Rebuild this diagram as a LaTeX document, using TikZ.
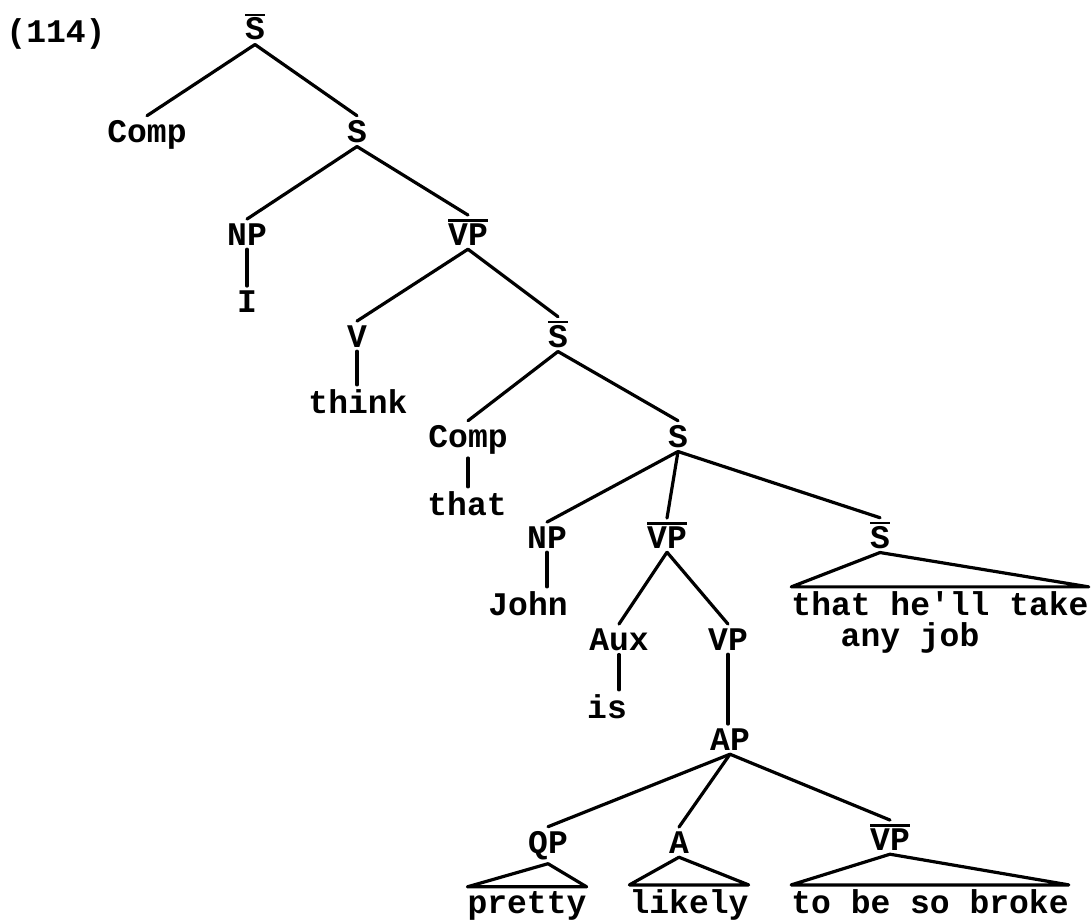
\documentclass[tikz,border=0pt]{standalone}
\usepackage{fontspec}
\setmainfont{Liberation Mono}
\usetikzlibrary{calc}

\newcommand{\barred}[1]{\vbox{\hrule height 2.5pt\kern 1.5pt\hbox{#1}}}

\tikzset{
    lab/.style={anchor=base, inner xsep=1pt, inner ysep=4pt, font=\bfseries\fontsize{33}{40}\selectfont},
    leaf/.style={lab, inner xsep=0pt},
    branch/.style={line width=3.2pt, line cap=round, line join=round}
}

\begin{document}
\begin{tikzpicture}[x=1pt,y=-1pt]

        \useasboundingbox (0,0) rectangle (1091,923);

        \node[lab] (num) at (56,43) {(114)};
        \node[lab] (sbar0) at (255,40) {\barred{S}};

        \node[lab] (comp1) at (147,142) {Comp};
        \node[lab] (s1) at (357,142) {S};

        \node[lab] (np1) at (247,245) {NP};
        \node[lab] (vpbar1) at (468,245) {\barred{VP}};
        \node[lab] (i) at (247,312) {I};

        \node[lab] (v) at (357,347) {V};
        \node[lab] (sbar2) at (558,347) {\barred{S}};
        \node[lab] (think) at (358,413) {think};

        \node[lab] (comp2) at (468,447) {Comp};
        \node[lab] (s3) at (678,447) {S};
        \node[lab] (that) at (467,515) {that};

        \node[lab] (np2) at (547,548) {NP};
        \node[lab] (vpbar2) at (667,548) {\barred{VP}};
        \node[lab] (sbar4) at (880,548) {\barred{S}};
        \node[lab] (john) at (528,615) {John};
        \node[leaf] (sthat) at (940,615) {that he\textquotesingle ll take};
        \node[lab, inner sep=0pt] (sany) at (910,646) {any job};

        \node[lab] (aux) at (619,650) {Aux};
        \node[lab] (vp3) at (728,650) {VP};
        \node[lab] (is) at (607,718) {is};
        \node[lab] (ap) at (730,750) {AP};

        \node[lab] (qp) at (548,853) {QP};
        \node[lab] (a) at (679,853) {A};
        \node[lab] (vpbar3) at (890,850) {\barred{VP}};
        \node[leaf] (pretty) at (527,913) {pretty};
        \node[leaf] (likely) at (689,913) {likely};
        \node[leaf] (tobe) at (930,913) {to be so broke};

        \draw[branch] (sbar0.south) -- (comp1.north);
        \draw[branch] (sbar0.south) -- (s1.north);
        \draw[branch] (s1.south) -- (np1.north);
        \draw[branch] (s1.south) -- (vpbar1.north);
        \draw[branch] (np1.south) -- (np1.south |- i.north);
        \draw[branch] (vpbar1.south) -- (v.north);
        \draw[branch] (vpbar1.south) -- (sbar2.north);
        \draw[branch] (v.south) -- (v.south |- think.north);
        \draw[branch] (sbar2.south) -- (comp2.north);
        \draw[branch] (sbar2.south) -- (s3.north);
        \draw[branch] (comp2.south) -- (comp2.south |- that.north);
        \draw[branch] (s3.south) -- (np2.north);
        \draw[branch] (s3.south) -- (vpbar2.north);
        \draw[branch] (s3.south) -- (sbar4.north);
        \draw[branch] (np2.south) -- (np2.south |- john.north);
        \draw[branch] (sbar4.south) -- (sthat.north west) -- (sthat.north east) -- cycle;
        \draw[branch] (vpbar2.south) -- (aux.north);
        \draw[branch] (vpbar2.south) -- (vp3.north);
        \draw[branch] (aux.south) -- (aux.south |- is.north);
        \draw[branch] (vp3.south) -- (vp3.south |- ap.north);
        \draw[branch] (ap.south) -- (qp.north);
        \draw[branch] (ap.south) -- (a.north);
        \draw[branch] (ap.south) -- (vpbar3.north);
        \draw[branch] (qp.south) -- (pretty.north west) -- (pretty.north east) -- cycle;
        \draw[branch] (a.south) -- (likely.north west) -- (likely.north east) -- cycle;
        \draw[branch] (vpbar3.south) -- (tobe.north west) -- (tobe.north east) -- cycle;

\end{tikzpicture}
\end{document}
